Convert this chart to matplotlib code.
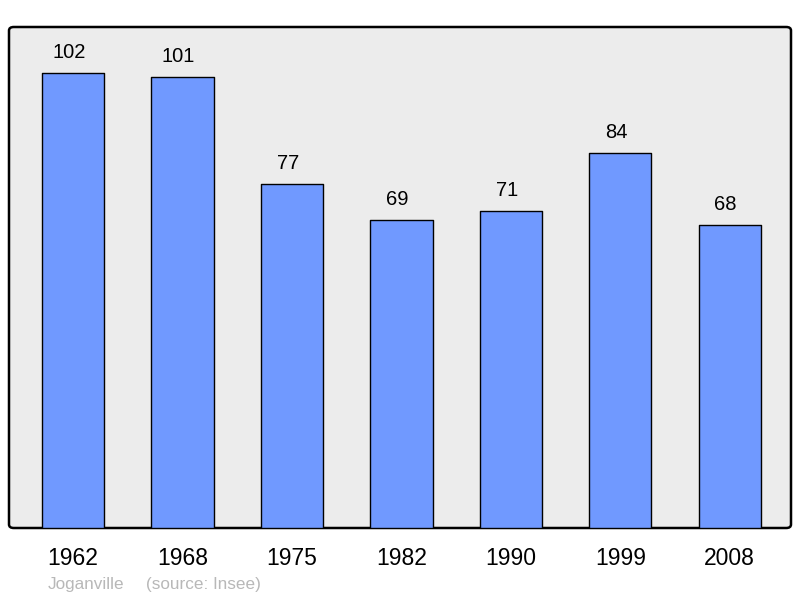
import matplotlib
matplotlib.use("Agg")
import matplotlib.pyplot as plt
from matplotlib.patches import FancyBboxPatch

years = ["1962", "1968", "1975", "1982", "1990", "1999", "2008"]
population = [102, 101, 77, 69, 71, 84, 68]
footer_place = "Joganville"
footer_source = "(source: Insee)"

plt.rcParams['font.family'] = ['Liberation Sans', 'DejaVu Sans']

fig = plt.figure(figsize=(8, 5.98), dpi=100)
W, H = 800, 598
left, right, top, bottom = 9, 791, 27, 528
ax = fig.add_axes([left / W, 1 - bottom / H, (right - left) / W, (bottom - top) / H])
ax.set_facecolor('none')
ax.set_zorder(1)

# rounded background frame
bg = FancyBboxPatch((left / W, 1 - bottom / H), (right - left) / W, (bottom - top) / H,
                    boxstyle="round,pad=0,rounding_size=0.006",
                    transform=fig.transFigure, facecolor='#ececec',
                    edgecolor='black', linewidth=1.8, zorder=-1)
fig.patches.append(bg)

x = range(len(years))
bars = ax.bar(x, population, width=0.57, color='#7099ff', edgecolor='black',
              linewidth=1.0, zorder=2)
for b in bars:
    b.set_joinstyle('round')

for xi, v in zip(x, population):
    ax.annotate(str(v), (xi, v), xytext=(-3, 14.8), textcoords='offset points',
                ha='center', va='center', fontsize=14.5, color='black')

ax.set_xlim(-0.585, 6.56)
ax.set_ylim(0, 112.3)
for s in ax.spines.values():
    s.set_visible(False)
ax.set_yticks([])
ax.set_xticks(list(x))
ax.set_xticklabels(years, fontsize=16.5)
ax.tick_params(axis='x', length=0, pad=14)

fig.text(48 / W, 1 - 584 / H, footer_place, fontsize=12.3, color='#b8b8b8',
         ha='left', va='center')
fig.text(146 / W, 1 - 584 / H, footer_source, fontsize=12.3, color='#b8b8b8',
         ha='left', va='center')

fig.savefig('out.png', dpi=100)
